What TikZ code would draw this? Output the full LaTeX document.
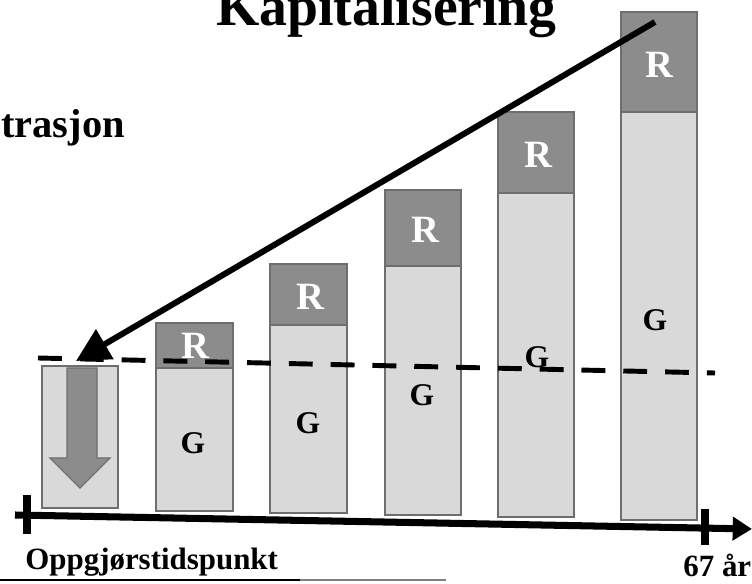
\documentclass[tikz,border=0pt]{standalone}
\usepackage{fontspec}
\setmainfont{Liberation Serif}
\usetikzlibrary{arrows.meta}
\definecolor{barlight}{HTML}{D9D9D9}
\definecolor{bardark}{HTML}{8C8C8C}
\definecolor{barline}{HTML}{6E6E6E}

\begin{document}
\begin{tikzpicture}[x=0.02cm,y=-0.02cm,
  gpart/.style={fill=barlight,draw=barline,line width=0.8pt},
  rpart/.style={fill=bardark,draw=barline,line width=0.8pt},
  rlab/.style={font=\fontsize{22}{22}\selectfont\bfseries,text=white,inner sep=0pt},
  glab/.style={font=\fontsize{18}{18}\selectfont\bfseries,inner sep=0pt},
  axis/.style={line width=4pt},
  lab/.style={font=\fontsize{17.6}{20}\selectfont\bfseries,anchor=base west,inner sep=0pt}]
\useasboundingbox (0,0) rectangle (752,584);
\clip (0,0) rectangle (752,584);
\node[anchor=base west,inner sep=0pt,font=\fontsize{31.7}{34}\selectfont\bfseries] (title) at (216,26) {Kapitalisering};
\node[anchor=base west,inner sep=0pt,font=\fontsize{23}{26}\selectfont\bfseries] (sub) at (1,138) {trasjon};
\draw[gpart] (42,366) rectangle (118,508);
\filldraw[fill=bardark,draw=barline,line width=0.8pt] (67,368) -- (97,368) -- (97,458) -- (110,458) -- (80,488) -- (50,458) -- (67,458) -- cycle;
\foreach \i/\xa/\xb/\yt/\ym/\yb/\gx/\gy/\rx/\ry in {1/156/233/323/368/511/193/443/195/346,
  2/270/347/264/325/513/308/423/310/297, 3/385/461/190/266/515/422/395/425/230,
  4/498/574/112/193/517/537/357/538/155, 5/621/697/12/112/520/655/320/659/65}{
  \draw[gpart] (\xa,\ym) rectangle (\xb,\yb);
  \draw[rpart] (\xa,\yt) rectangle (\xb,\ym);
  \node[glab] (g\i) at (\gx,\gy) {G};
  \node[rlab] (r\i) at (\rx,\ry) {R};
}
\coordinate (lvlL) at (38,358);
\coordinate (lvlR) at (715,373);
\draw[line width=2.8pt,dash pattern=on 13.6pt off 10.2pt] (lvlL) -- (lvlR);
\coordinate (axL) at (15,515);
\coordinate (axR) at (752,529);
\draw[axis,-{Triangle[length=11pt,width=13pt]}] (axL) -- (axR);
\draw[axis] (27,495) -- (27,534);
\draw[axis] (705,509) -- (705,545);
\coordinate (tail) at (655,22);
\coordinate (b0top) at (76,361);
\draw[line width=3.4pt,-{Triangle[length=19pt,width=19pt]}] (tail) -- (b0top);
\node[lab] (start) at (25,570) {Oppgjørstidspunkt};
\node[lab] (end) at (683,577) {67 år};
\draw[line width=1.2pt] (0,580) -- (300,580);
\draw[line width=1pt,gray] (300,580) -- (446,580);
\end{tikzpicture}
\end{document}
